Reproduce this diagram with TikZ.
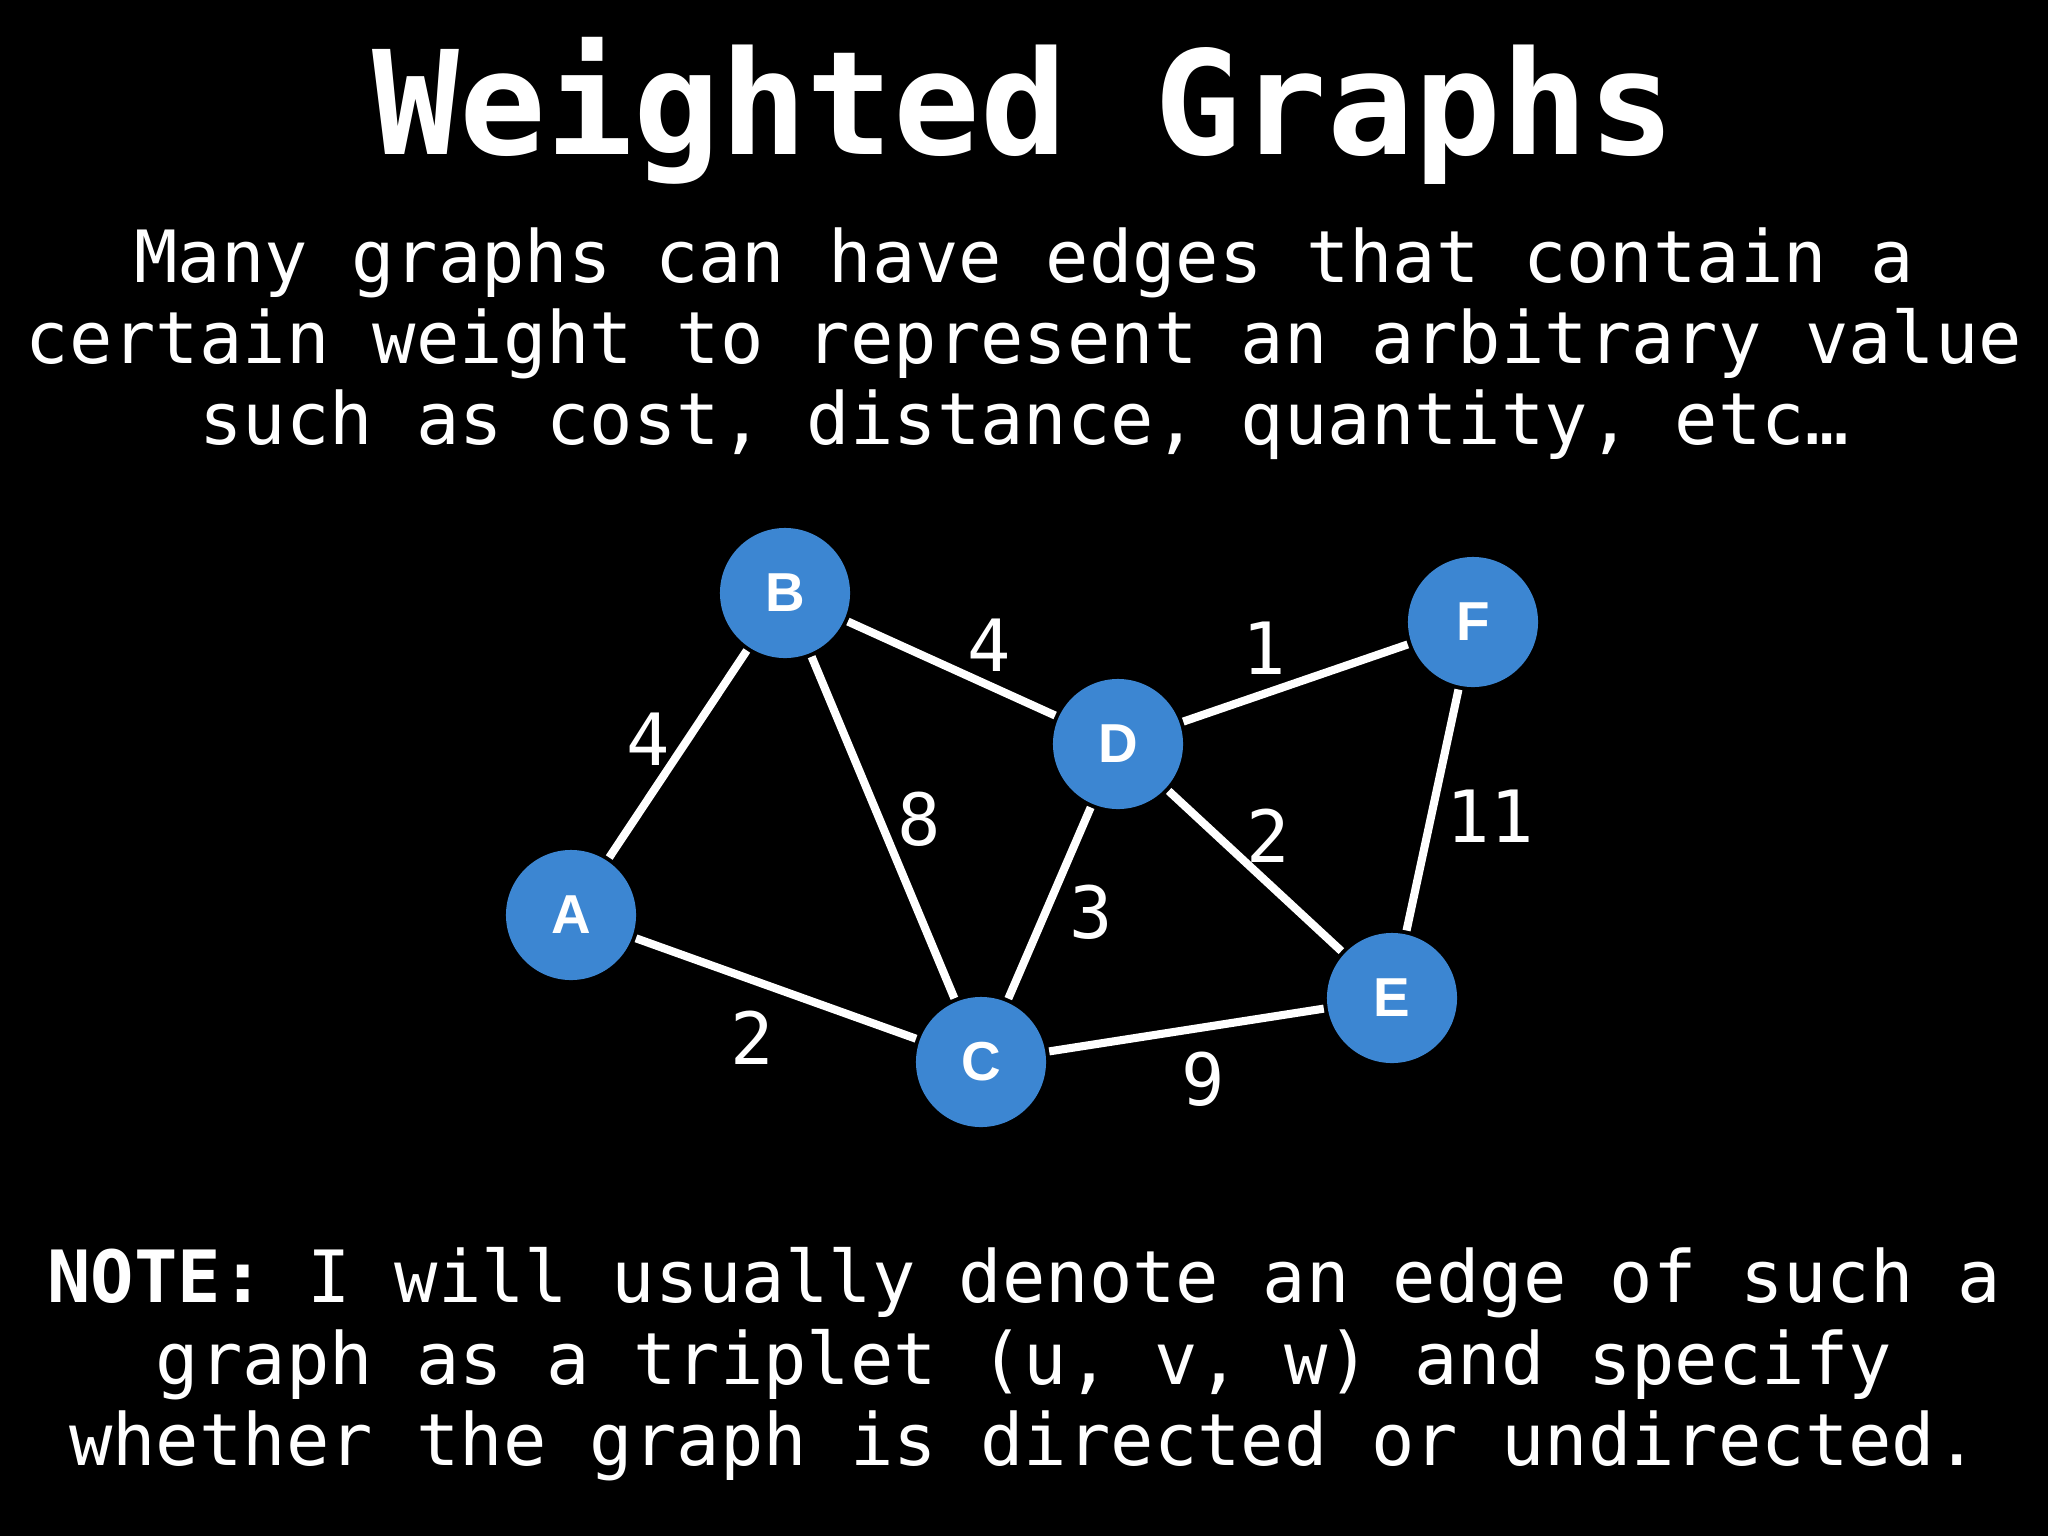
\documentclass[tikz,border=0pt]{standalone}
\usepackage{fontspec}
\setmainfont{DejaVu Sans Mono}
\setmonofont{DejaVu Sans Mono}
\newfontfamily\nodefont{Liberation Sans}
\definecolor{nodeblue}{RGB}{60,134,210}
\tikzset{
  vtx/.style={circle, fill=nodeblue, minimum size=1.3cm, inner sep=0pt, outer sep=0.04cm,
              text=white, font=\nodefont\bfseries\fontsize{15.6}{18}\selectfont},
  edge/.style={white, line width=2.3pt},
  txt/.style={text=white, anchor=base, inner sep=0pt, font=\fontsize{20.5}{23}\selectfont},
  wgt/.style={text=white, inner sep=0pt, font=\fontsize{20.5}{23}\selectfont},
  ttl/.style={text=white, anchor=base, inner sep=0pt, font=\bfseries\fontsize{41}{48}\selectfont}
}
\begin{document}
\begin{tikzpicture}[x=0.01cm,y=-0.01cm]
\path[fill=black] (0,0) rectangle (2048,1536);
\useasboundingbox (0,0) rectangle (2048,1536);

\node[ttl] (title) at (1024,154) {Weighted Graphs};
\node[txt] (s1) at (1024,282) {Many graphs can have edges that contain a};
\node[txt] (s2) at (1024,363) {certain weight to represent an arbitrary value};
\node[txt] (s3) at (1024,444) {such as cost, distance, quantity, etc…};

\node[vtx] (B) at (785,593) {B};
\node[vtx] (D) at (1118,744) {D};
\node[vtx] (F) at (1473,622) {F};
\node[vtx] (A) at (571,915) {A};
\node[vtx] (C) at (981,1062) {C};
\node[vtx] (E) at (1392,998) {E};

\draw[edge] (A) -- (B);
\draw[edge] (B) -- (D);
\draw[edge] (D) -- (F);
\draw[edge] (B) -- (C);
\draw[edge] (D) -- (E);
\draw[edge] (F) -- (E);
\draw[edge] (D) -- (C);
\draw[edge] (A) -- (C);
\draw[edge] (C) -- (E);

\node[wgt] (wAB) at (648,739) {4};
\node[wgt] (wBD) at (989,645) {4};
\node[wgt] (wDF) at (1264,648) {1};
\node[wgt] (wBC) at (919,819) {8};
\node[wgt] (wDE) at (1268,836) {2};
\node[wgt] (wFE) at (1490,816) {11};
\node[wgt] (wDC) at (1091,912) {3};
\node[wgt] (wAC) at (752,1038) {2};
\node[wgt] (wCE) at (1203,1079) {9};

\node[txt] (n1) at (1024,1302) {\textbf{NOTE:} I will usually denote an edge of such a};
\node[txt] (n2) at (1024,1384) {graph as a triplet (u, v, w) and specify};
\node[txt] (n3) at (1024,1465) {whether the graph is directed or undirected.};
\end{tikzpicture}
\end{document}
